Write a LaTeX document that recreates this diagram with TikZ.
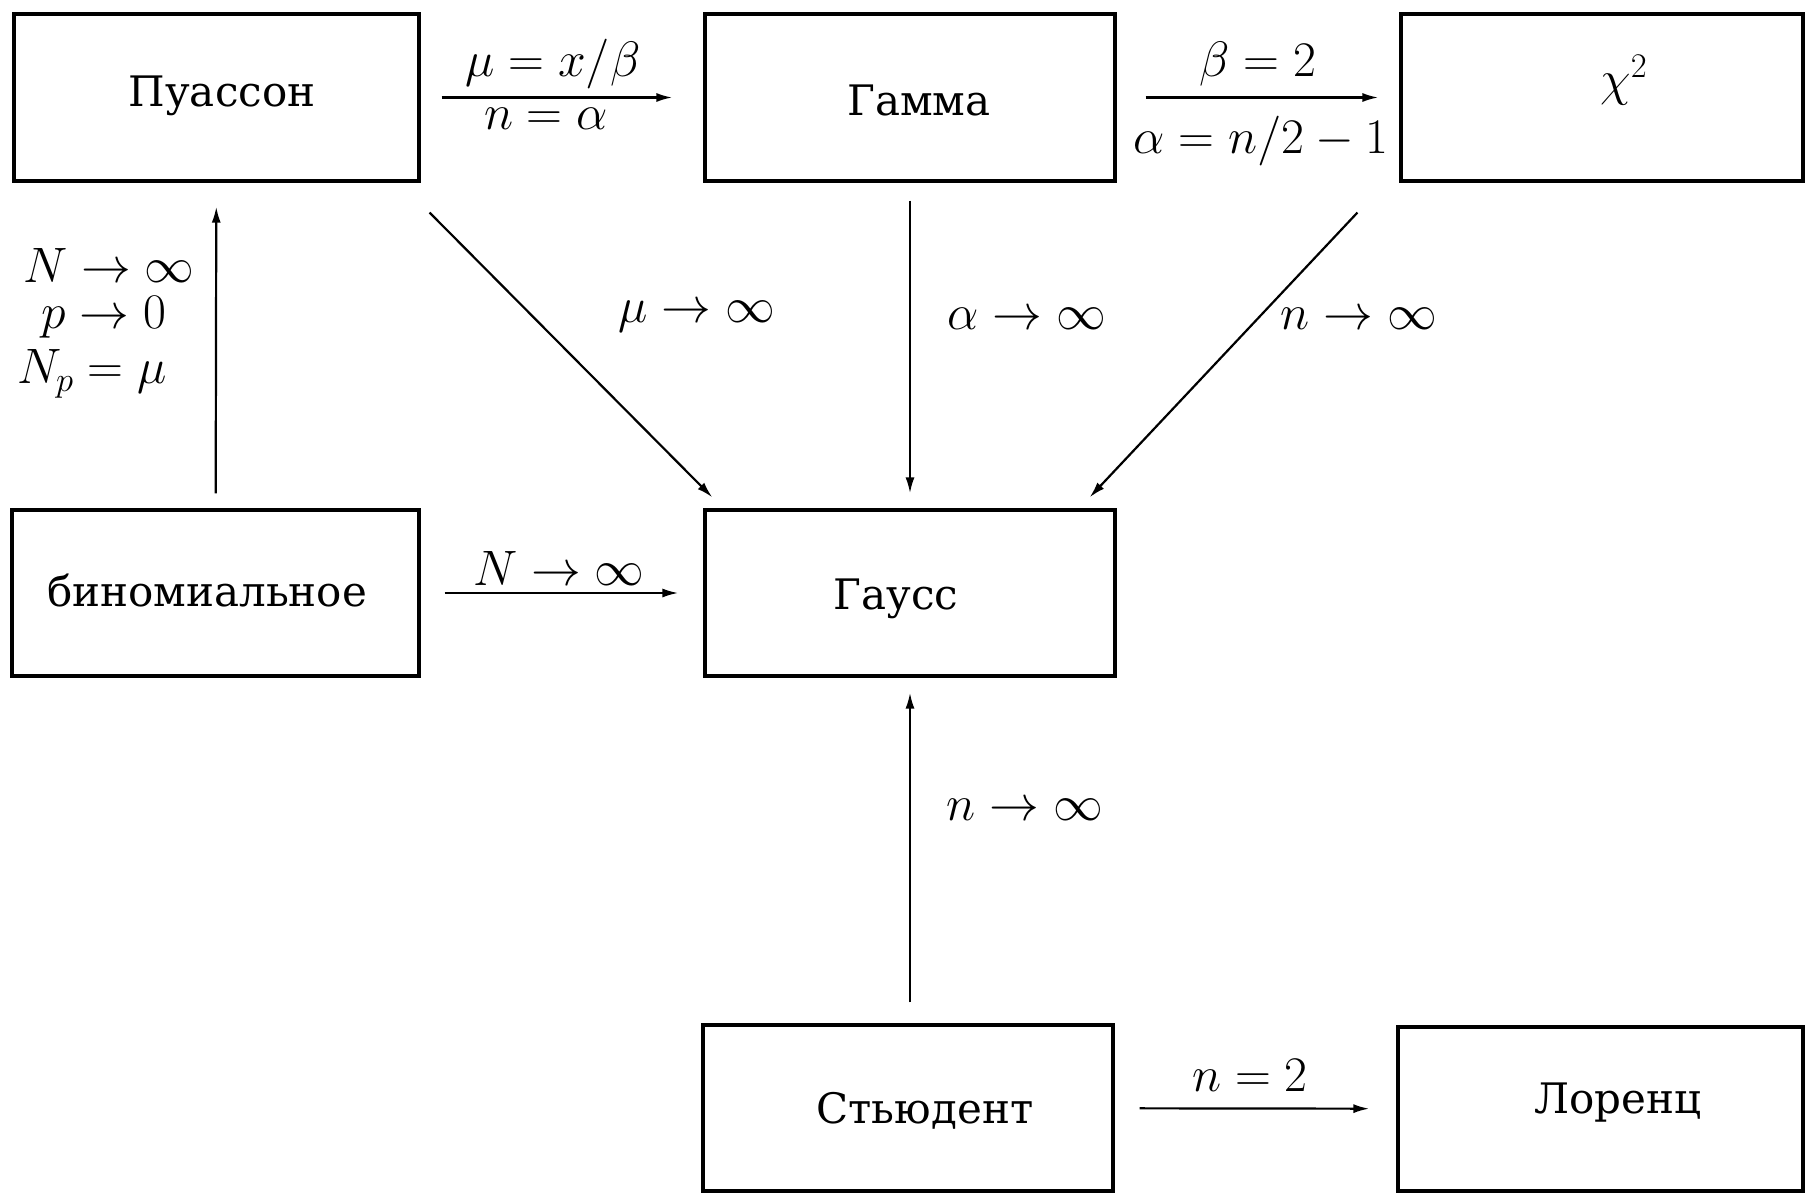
\documentclass[tikz,border=0pt]{standalone}
\usepackage[no-math]{fontspec}
\setmainfont{DejaVu Serif}
\usetikzlibrary{arrows.meta}
\begin{document}
\begin{tikzpicture}[x=0.5pt,y=-0.5pt,
  font=\fontsize{21}{27}\selectfont,
  mfont/.style={font=\fontsize{24}{27}\selectfont},
  box/.style={draw, line width=1.6pt, inner sep=0pt, minimum height=83.5pt},
  txt/.style={inner sep=0pt},
  arr/.style={line width=1.1pt, -{Latex[length=8pt,width=4.5pt]}}]
\useasboundingbox (0,0) rectangle (1806,1194);
% boxes
\node[box, minimum width=202.5pt] (pois)  at (216.5,97.5) {};
\node[box, minimum width=205pt]   (gamma) at (910,97.5) {};
\node[box, minimum width=201pt]   (chi)   at (1602,97.5) {};
\node[box, minimum width=203.5pt, minimum height=83pt] (binom) at (215.5,593) {};
\node[box, minimum width=205pt, minimum height=83pt]   (gauss) at (910,593) {};
\node[box, minimum width=205pt, minimum height=83pt]   (stud)  at (908,1108) {};
\node[box, minimum width=202.5pt, minimum height=82pt] (lor)   at (1600.5,1109) {};
% box texts
\node[txt] (poisT)  at (222,96)   {Пуассон};
\node[txt] (gammaT) at (919,100)  {Гамма};
\node[txt, mfont] (chiT)   at (1624,80)  {$\chi^2$};
\node[txt] (binomT) at (207,590)  {биномиальное};
\node[txt] (gaussT) at (896,599)  {Гаусс};
\node[txt] (studT)  at (925,1111) {Стьюдент};
\node[txt] (lorT)   at (1618,1103){Лоренц};
% connectors
\draw[arr, shorten <=10.5pt, shorten >=15.5pt] (pois) -- (gamma);
\draw[arr, shorten <=14.5pt, shorten >=10.5pt] (gamma) -- (chi);
\draw[arr, shorten <=7.5pt, shorten >=12pt] (binom) -- (pois);
\draw[arr] ([shift={(9,30)}]pois.south east) -- ([shift={(9,-11)}]gauss.north west);
\draw[arr, shorten <=9pt, shorten >=7.5pt] (gamma) -- (gauss);
\draw[arr] ([shift={(-42,30)}]chi.south west) -- ([shift={(-27,-11)}]gauss.north east);
\draw[arr, shorten <=12pt, shorten >=12.5pt] (binom) -- (gauss);
\draw[arr, shorten <=10.5pt, shorten >=7.5pt] (stud.north -| gauss.south) -- (gauss.south);
\draw[arr, shorten <=12.5pt, shorten >=13.5pt] (stud) -- (lor);
% labels
\begin{scope}[every node/.append style={mfont}]
\node[txt] (l1a) at (553,64)  {$\mu = x/\beta$};
\node[txt] (l1b) at (546,119) {$n = \alpha$};
\node[txt] (l2a) at (1258,64) {$\beta = 2$};
\node[txt] (l2b) at (1261,141){$\alpha = n/2 - 1$};
\node[txt] (l3a) at (109,265) {$N \to \infty$};
\node[txt] (l3b) at (104,317) {$p \to 0$};
\node[txt] (l3c) at (92,374)  {$N_p = \mu$};
\node[txt] (l4)  at (697,317) {$\mu \to \infty$};
\node[txt] (l5)  at (1027,319){$\alpha \to \infty$};
\node[txt] (l6)  at (1359,319){$n \to \infty$};
\node[txt] (l7)  at (559,568) {$N \to \infty$};
\node[txt] (l8)  at (1025,810){$n \to \infty$};
\node[txt] (l9)  at (1250,1075){$n = 2$};
\end{scope}
\end{tikzpicture}
\end{document}
